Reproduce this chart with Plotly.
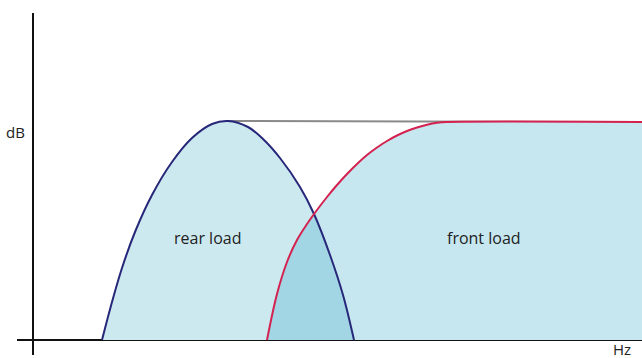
import plotly.graph_objects as go

# data (x: frequency-ish units, y: level units)
rear_x = [69, 79, 89, 102, 119, 139, 159, 179, 195, 215, 230, 247, 267, 281, 297, 310, 321]
rear_y = [0, 38, 72, 108, 145, 178, 202, 216, 219, 213, 201, 182, 153, 126, 85, 45, 0]

front_x = [234, 244, 254, 264, 274, 284, 294, 304, 314, 324, 334, 344, 354, 364, 374, 384, 394, 404, 414, 609]
front_y = [0, 46, 78, 100, 116, 130, 143, 155, 166, 176, 185, 192.5, 199, 204.5, 209, 212.5, 215.3, 217.2, 218, 218]

cross_x = 281  # crossover point
ceiling_x = [195, 609]
ceiling_y = [219, 218]

labels = ["rear load", "front load"]
label_x = [174, 451]
label_y = [102, 102]

SM = 1.0
fig = go.Figure()

fig.add_trace(go.Scatter(x=ceiling_x, y=ceiling_y, mode="lines",
                         line=dict(color="#8a8a8a", width=2), hoverinfo="skip"))

fig.add_trace(go.Scatter(x=rear_x, y=rear_y, mode="lines", fill="tozeroy",
                         fillcolor="#cde9f0", line=dict(color="rgba(0,0,0,0)", width=0, shape="spline", smoothing=SM),
                         hoverinfo="skip"))
fig.add_trace(go.Scatter(x=front_x, y=front_y, mode="lines", fill="tozeroy",
                         fillcolor="#c6e7f0", line=dict(color="rgba(0,0,0,0)", width=0, shape="spline", smoothing=SM),
                         hoverinfo="skip"))

# overlap region (lower of the two curves) built from the data
ov_x = [x for x in front_x if x < cross_x] + [x for x in rear_x if x >= cross_x]
ov_y = [y for x, y in zip(front_x, front_y) if x < cross_x] + [y for x, y in zip(rear_x, rear_y) if x >= cross_x]
fig.add_trace(go.Scatter(x=ov_x, y=ov_y, mode="lines", fill="tozeroy",
                         fillcolor="#a3d6e4", line=dict(color="rgba(0,0,0,0)", width=0),
                         hoverinfo="skip"))

fig.add_trace(go.Scatter(x=rear_x, y=rear_y, mode="lines",
                         line=dict(color="#27277a", width=2, shape="spline", smoothing=SM), hoverinfo="skip"))
fig.add_trace(go.Scatter(x=front_x, y=front_y, mode="lines",
                         line=dict(color="#d42250", width=2, shape="spline", smoothing=SM), hoverinfo="skip"))

for t, x, y in zip(labels, label_x, label_y):
    fig.add_annotation(x=x, y=y, text=t, showarrow=False,
                       font=dict(family="Open Sans", size=16, color="#222"))

fig.add_annotation(x=-6, y=208, text="dB", showarrow=False, xanchor="right",
                   font=dict(family="Open Sans", size=15, color="#222"))
fig.add_annotation(x=589, y=-9, text="Hz", showarrow=False, yanchor="middle",
                   font=dict(family="Open Sans", size=15, color="#222"))

axis_common = dict(showgrid=False, showticklabels=False, ticks="", showline=False,
                   zeroline=True, zerolinecolor="#111", zerolinewidth=2, layer="above traces",
                   fixedrange=True)
fig.update_layout(
    width=642, height=358,
    margin=dict(l=17, r=0, t=13, b=3),
    paper_bgcolor="white", plot_bgcolor="white",
    showlegend=False,
    xaxis=dict(range=[-16, 609], **axis_common),
    yaxis=dict(range=[-15, 327], **axis_common),
)

fig.write_html("out.html", config={"displayModeBar": False},
               post_script="document.body.style.margin='0';document.body.style.overflow='hidden';")
